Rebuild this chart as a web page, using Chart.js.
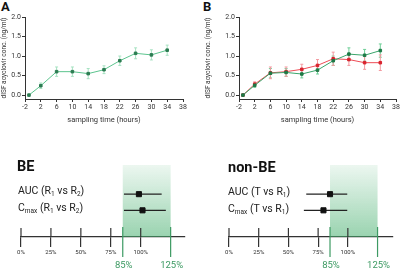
<html>
<head>
<script src="https://cdn.jsdelivr.net/npm/chart.js@4.4.0/dist/chart.umd.min.js"></script>
<style>
  body { margin:0; width:401px; height:271px; position:relative; background:#fff; font-family: Roboto, "Liberation Sans", sans-serif; overflow:hidden; }
  canvas { position:absolute; }
  .panel { position:absolute; font-weight:bold; font-size:13px; color:#111; line-height:1; }
  .big { position:absolute; font-weight:bold; font-size:14.5px; color:#111; line-height:1; }
  .lbl { position:absolute; font-size:10.5px; color:#222; white-space:nowrap; line-height:1; }
  .lbl sub { font-size:6.5px; vertical-align:-2px; line-height:0; }
</style>
</head>
<body>
  <div class="panel" style="left:1px; top:0px;">A</div>
  <div class="panel" style="left:203px; top:0px;">B</div>
  <canvas id="chartA" width="200" height="135" style="left:0; top:0;"></canvas>
  <canvas id="chartB" width="201" height="135" style="left:200px; top:0;"></canvas>

  <canvas id="forestBE" width="200" height="136" style="left:0; top:135px;"></canvas>
  <canvas id="forestNonBE" width="201" height="136" style="left:200px; top:135px;"></canvas>

  <div class="big" style="left:17px; top:160px;">BE</div>
  <div class="lbl" style="left:18px; top:186px;">AUC (R<sub>1</sub> vs R<sub>2</sub>)</div>
  <div class="lbl" style="left:18px; top:203px;">C<sub>max</sub> (R<sub>1</sub> vs R<sub>2</sub>)</div>

  <div class="big" style="left:228px; top:161px;">non-BE</div>
  <div class="lbl" style="left:228px; top:187px;">AUC (T vs R<sub>1</sub>)</div>
  <div class="lbl" style="left:228px; top:204px;">C<sub>max</sub> (T vs R<sub>1</sub>)</div>

<script>
  // sampling times (hours) and concentrations (ng/ml)
  var times = [-1, 2, 6, 10, 14, 18, 22, 26, 30, 34];
  var timeTicks = [-2, 2, 6, 10, 14, 18, 22, 26, 30, 34, 38];
  var concTicks = [0, 0.5, 1.0, 1.5, 2.0];

  var concA    = [0, 0.24, 0.60, 0.60, 0.55, 0.65, 0.88, 1.07, 1.03, 1.15];
  var errA     = [0, 0.07, 0.12, 0.12, 0.13, 0.10, 0.12, 0.14, 0.13, 0.13];

  var concBref = [0, 0.25, 0.56, 0.58, 0.54, 0.64, 0.88, 1.05, 1.02, 1.14];
  var errBref  = [0, 0.05, 0.12, 0.10, 0.10, 0.10, 0.12, 0.16, 0.15, 0.17];
  var concBtest = [0, 0.28, 0.57, 0.60, 0.66, 0.76, 0.93, 0.91, 0.83, 0.83];
  var errBtest  = [0, 0.06, 0.15, 0.12, 0.13, 0.15, 0.17, 0.15, 0.17, 0.20];

  // ratio estimates with 90% CI (%)
  var ratioTicks = [0, 25, 50, 75, 100];
  var beLimits = [85, 125];
  var rows = [1, 2]; // AUC, Cmax
  var beEst = [98.5, 101.5];
  var beLow = [86, 86];
  var beHigh = [117.5, 121];
  var nonBeEst = [85, 79.5];
  var nonBeLow = [65, 63];
  var nonBeHigh = [99.5, 99.5];

  var textCol = '#333';

  function pts(xs, ys) {
    return xs.map(function(x, i) { return { x: x, y: ys[i] }; });
  }

  var errorBars = {
    id: 'errorBars',
    beforeDatasetsDraw: function(chart) {
      var ctx = chart.ctx, xs = chart.scales.x, ys = chart.scales.y;
      chart.data.datasets.forEach(function(ds) {
        if (!ds.errors) return;
        ctx.save();
        ctx.strokeStyle = ds.errorColor;
        ctx.lineWidth = 1;
        ds.data.forEach(function(p, i) {
          var e = ds.errors[i];
          if (!e) return;
          var px = xs.getPixelForValue(p.x);
          var top = ys.getPixelForValue(p.y + e), bot = ys.getPixelForValue(p.y - e);
          ctx.beginPath();
          ctx.moveTo(px, top); ctx.lineTo(px, bot);
          ctx.moveTo(px - 1.5, top); ctx.lineTo(px + 1.5, top);
          ctx.moveTo(px - 1.5, bot); ctx.lineTo(px + 1.5, bot);
          ctx.stroke();
        });
        ctx.restore();
      });
    }
  };

  function timeChart(id, datasets, padLeft, padRight, yWidth) {
    return new Chart(document.getElementById(id), {
      type: 'line',
      data: { datasets: datasets },
      plugins: [errorBars],
      options: {
        responsive: false, animation: false, devicePixelRatio: 1,
        layout: { padding: { left: padLeft, right: padRight, top: 17, bottom: 10 } },
        plugins: { legend: { display: false }, tooltip: { enabled: false } },
        scales: {
          x: {
            type: 'linear', min: -2, max: 38,
            afterBuildTicks: function(s) { s.ticks = timeTicks.map(function(v) { return { value: v }; }); },
            afterFit: function(s) { s.height = 26; },
            border: { color: textCol, width: 1 },
            grid: { drawOnChartArea: false, tickLength: 3, color: textCol },
            ticks: { font: { size: 7, family: 'Roboto' }, color: textCol, padding: 1, maxRotation: 0 },
            title: { display: true, text: 'sampling time (hours)', font: { size: 7.5, family: 'Roboto' }, color: textCol, padding: { top: 2, bottom: 0 } }
          },
          y: {
            min: -0.1, max: 2,
            afterBuildTicks: function(s) { s.ticks = concTicks.map(function(v) { return { value: v }; }); },
            afterFit: function(s) { s.width = yWidth; },
            border: { color: textCol, width: 1 },
            grid: { drawOnChartArea: false, tickLength: 3, color: textCol },
            ticks: { font: { size: 7, family: 'Roboto' }, color: textCol, padding: 1, callback: function(v) { return v.toFixed(1); } },
            title: { display: true, text: 'dISF acyclovir conc. (ng/ml)', font: { size: 6.5, family: 'Roboto' }, color: textCol, padding: { top: 0, bottom: 1 } }
          }
        }
      }
    });
  }

  function series(vals, errs, line, point, errCol) {
    return {
      data: pts(times, vals), errors: errs, errorColor: errCol,
      borderColor: line, borderWidth: 1, backgroundColor: point,
      pointBackgroundColor: point, pointBorderColor: point,
      pointStyle: 'rect', pointRadius: 1.8
    };
  }

  timeChart('chartA', [series(concA, errA, '#5cc48e', '#2c7c52', '#a7e2c2')], 0, 17, 25);
  timeChart('chartB', [
    series(concBref, errBref, '#3aa56b', '#1e7a47', '#6fcf98'),
    series(concBtest, errBtest, '#ee4b55', '#d8232e', '#f39aa0')
  ], 4, 5, 35);

  function forest(id, est, low, high, padLeft, padRight, xMax) {
    var forestDraw = {
      id: 'forestDraw',
      beforeDatasetsDraw: function(chart) {
        var ctx = chart.ctx, xs = chart.scales.x, ys = chart.scales.y, area = chart.chartArea;
        var x85 = xs.getPixelForValue(beLimits[0]), x125 = xs.getPixelForValue(beLimits[1]);
        ctx.save();
        // acceptance band
        var g = ctx.createLinearGradient(0, area.top + 25, 0, area.bottom);
        g.addColorStop(0, 'rgba(70,175,110,0.10)');
        g.addColorStop(1, 'rgba(70,175,110,0.55)');
        ctx.fillStyle = g;
        ctx.fillRect(x85, area.top + 25, x125 - x85, area.bottom - area.top - 25);
        // upper halves of axis ticks
        ctx.strokeStyle = textCol; ctx.lineWidth = 1.2;
        ratioTicks.forEach(function(v) {
          var px = xs.getPixelForValue(v);
          ctx.beginPath(); ctx.moveTo(px, area.bottom - 9); ctx.lineTo(px, area.bottom); ctx.stroke();
        });
        // limit lines and labels
        ctx.strokeStyle = '#3d9a63'; ctx.lineWidth = 1.2;
        ctx.fillStyle = '#3d9a63';
        ctx.font = '9.5px Roboto';
        ctx.textAlign = 'center'; ctx.textBaseline = 'middle';
        [x85, x125].forEach(function(px, i) {
          ctx.beginPath(); ctx.moveTo(px, area.bottom - 10); ctx.lineTo(px, area.bottom + 20); ctx.stroke();
          ctx.fillText(beLimits[i] + '%', px + 1, area.bottom + 29);
        });
        // confidence intervals
        ctx.strokeStyle = '#222'; ctx.lineWidth = 1.2;
        rows.forEach(function(r, i) {
          var py = ys.getPixelForValue(r);
          ctx.beginPath(); ctx.moveTo(xs.getPixelForValue(low[i]), py); ctx.lineTo(xs.getPixelForValue(high[i]), py); ctx.stroke();
        });
        ctx.restore();
      }
    };
    return new Chart(document.getElementById(id), {
      type: 'scatter',
      data: { datasets: [{ data: pts(est, rows), pointStyle: 'rect', pointRadius: 3.6, backgroundColor: '#111', borderColor: '#111' }] },
      plugins: [forestDraw],
      options: {
        responsive: false, animation: false, devicePixelRatio: 1,
        layout: { padding: { left: padLeft, right: padRight, top: 0, bottom: 0 } },
        plugins: { legend: { display: false }, tooltip: { enabled: false } },
        scales: {
          x: {
            type: 'linear', min: 0, max: xMax,
            afterBuildTicks: function(s) { s.ticks = ratioTicks.map(function(v) { return { value: v }; }); },
            afterFit: function(s) { s.height = 34; },
            border: { color: textCol, width: 1.2 },
            grid: { drawOnChartArea: false, tickLength: 10, color: textCol, lineWidth: 1.2 },
            ticks: { font: { size: 6, family: 'Roboto' }, color: textCol, padding: 2, maxRotation: 0, callback: function(v) { return v + '%'; } }
          },
          y: { display: false, min: -2.35, max: 3.65, reverse: true }
        }
      }
    });
  }

  forest('forestBE', beEst, beLow, beHigh, 21, 15, 137);
  forest('forestNonBE', nonBeEst, nonBeLow, nonBeHigh, 29, 8, 138);
</script>
</body>
</html>
